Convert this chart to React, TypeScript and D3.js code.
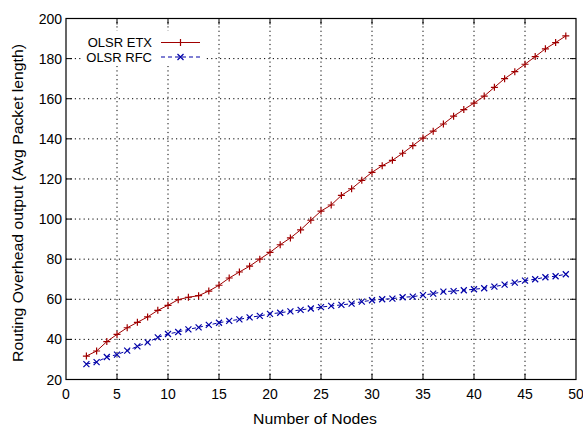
import React from "react";
import * as d3 from "d3";

const nodes = [2,3,4,5,6,7,8,9,10,11,12,13,14,15,16,17,18,19,20,21,22,23,24,25,26,27,28,29,30,31,32,33,34,35,36,37,38,39,40,41,42,43,44,45,46,47,48,49];
const etx = [31.7,34.2,38.9,42.5,45.8,48.5,51.2,54.5,57,59.8,61,61.8,64.1,67,70.6,73.6,76.5,80,83.4,87.2,90.6,94.6,99.4,104,107,111.8,115.1,119.3,123.3,126.6,129.3,132.8,136.6,140.4,143.8,147.4,151.3,154.6,157.8,161.3,165.7,170,173.5,177.2,181,184.9,188,191.3];
const rfc = [27.7,28.7,31.2,32.4,34.4,36.5,38.5,41,42.7,43.7,45,46,47.2,48.3,49.2,50,51,51.7,52.7,53.3,54,54.7,55.4,56.1,56.7,57.2,57.8,58.8,59.5,60,60.3,61,61.3,62.1,62.8,63.8,64.1,64.5,65,65.5,66.3,67.3,68.3,69.3,70,71,71.5,72.5];
const xTicks = [0,5,10,15,20,25,30,35,40,45,50];
const yTicks = [20,40,60,80,100,120,140,160,180,200];
const seriesNames = ["OLSR ETX", "OLSR RFC"];

const W = 583, H = 428;
const L = 66, R = 576, T = 18.5, B = 379.5;
const font = "Liberation Sans, Arial, sans-serif";

export default function App() {
  const x = d3.scaleLinear().domain([0, 50]).range([L, R]);
  const y = d3.scaleLinear().domain([20, 200]).range([B, T]);
  const lineGen = d3.line<number>().x((_, i) => x(nodes[i])).y(d => y(d));
  const red = "#a00000";
  const blue = "#0000a8";
  const plus = (cx: number, cy: number, k: string) => (
    <path key={k} d={`M${cx-3.5},${cy}H${cx+3.5}M${cx},${cy-3.5}V${cy+3.5}`} stroke={red} strokeWidth={1.2} />
  );
  const cross = (cx: number, cy: number, k: string) => (
    <path key={k} d={`M${cx-3},${cy-3}L${cx+3},${cy+3}M${cx-3},${cy+3}L${cx+3},${cy-3}`} stroke={blue} strokeWidth={1.2} />
  );
  return (
    <svg width={W} height={H} style={{ position: "absolute", left: 0, top: 0, background: "#fff" }}>
      <rect x={0} y={0} width={W} height={H} fill="#fff" />
      {/* grid */}
      <g stroke="#000" strokeWidth={1} strokeDasharray="1.2,3.2">
        {xTicks.slice(1, -1).map(t => (
          <line key={"gx" + t} x1={x(t)} x2={x(t)} y1={B} y2={T} />
        ))}
        {yTicks.slice(1, -1).map(t => (
          <line key={"gy" + t} x1={L} x2={R} y1={y(t)} y2={y(t)} />
        ))}
      </g>
      {/* legend opaque box */}
      <rect x={82} y={31} width={124} height={35} fill="#fff" />
      {/* ticks */}
      <g stroke="#000" strokeWidth={1}>
        {xTicks.slice(1, -1).map(t => (
          <g key={"tx" + t}>
            <line x1={x(t)} x2={x(t)} y1={B} y2={B - 6} />
            <line x1={x(t)} x2={x(t)} y1={T} y2={T + 6} />
          </g>
        ))}
        {yTicks.slice(1, -1).map(t => (
          <g key={"ty" + t}>
            <line x1={L} x2={L + 6} y1={y(t)} y2={y(t)} />
            <line x1={R} x2={R - 6} y1={y(t)} y2={y(t)} />
          </g>
        ))}
      </g>
      <rect x={L} y={T} width={R - L} height={B - T} fill="none" stroke="#000" strokeWidth={1.2} />
      {/* tick labels */}
      <g fontFamily={font} fontSize={14} fill="#000">
        {xTicks.map(t => (
          <text key={"lx" + t} x={x(t)} y={B + 19} textAnchor="middle">{t}</text>
        ))}
        {yTicks.map(t => (
          <text key={"ly" + t} x={L - 4} y={y(t) + 5} textAnchor="end">{t}</text>
        ))}
        <text x={315} y={424} textAnchor="middle" textLength={124} lengthAdjust="spacingAndGlyphs">Number of Nodes</text>
        <text transform={`translate(23,203) rotate(-90)`} textAnchor="middle" textLength={318} lengthAdjust="spacingAndGlyphs">Routing Overhead output (Avg Packet length)</text>
      </g>
      {/* series */}
      <path d={lineGen(etx) || ""} fill="none" stroke={red} strokeWidth={1} />
      {etx.map((v, i) => plus(x(nodes[i]), y(v), "p" + i))}
      <path d={lineGen(rfc) || ""} fill="none" stroke={blue} strokeWidth={1} strokeDasharray="4,3" />
      {rfc.map((v, i) => cross(x(nodes[i]), y(v), "c" + i))}
      {/* legend */}
      <g fontFamily={font} fontSize={13} fill="#000">
        <text x={152} y={47} textAnchor="end">{seriesNames[0]}</text>
        <text x={152} y={62} textAnchor="end">{seriesNames[1]}</text>
      </g>
      <line x1={161} x2={200} y1={42.5} y2={42.5} stroke={red} strokeWidth={1.1} />
      {plus(180.5, 42.5, "lp")}
      <line x1={161} x2={200} y1={57} y2={57} stroke={blue} strokeWidth={1.1} strokeDasharray="4,3" />
      {cross(180.5, 57, "lc")}
    </svg>
  );
}
